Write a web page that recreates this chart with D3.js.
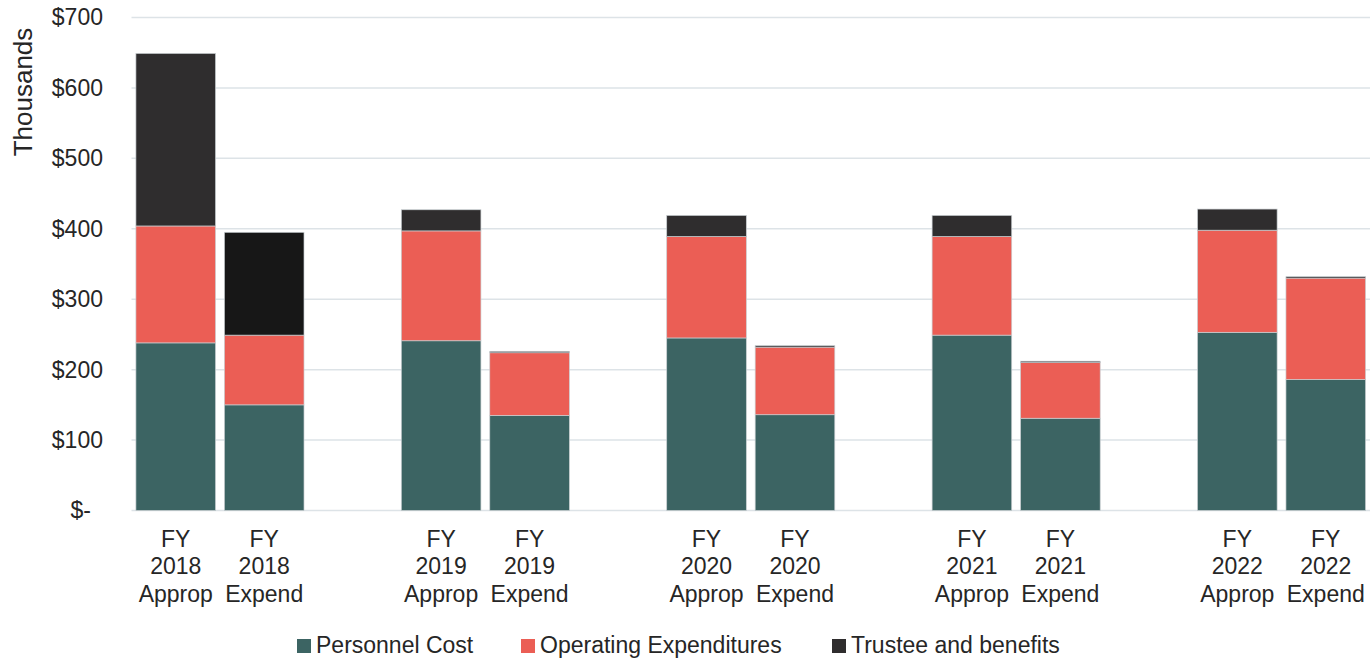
<!DOCTYPE html>
<html>
<head>
<meta charset="utf-8">
<script src="https://cdn.jsdelivr.net/npm/d3@7"></script>
<style>
  html, body { margin: 0; padding: 0; background: #fff; }
  svg { display: block; font-family: "Liberation Sans", Arial, sans-serif; }
</style>
</head>
<body>
<svg id="chart" width="1370" height="658"></svg>
<script>
// ---- data ----
const categories = [
  "FY 2018 Approp", "FY 2018 Expend",
  "FY 2019 Approp", "FY 2019 Expend",
  "FY 2020 Approp", "FY 2020 Expend",
  "FY 2021 Approp", "FY 2021 Expend",
  "FY 2022 Approp", "FY 2022 Expend"
];
const seriesNames = ["Personnel Cost", "Operating Expenditures", "Trustee and benefits"];
const personnelCost = [238, 150, 241, 135, 245, 136, 249, 131, 253, 186];
const operatingExpenditures = [166, 99, 156, 89, 144, 96, 140, 79, 145, 144];
const trusteeBenefits = [245, 146, 30, 2, 30, 2, 30, 2, 30, 2];
const yTicks = [0, 100, 200, 300, 400, 500, 600, 700];
const yTitle = "Thousands";

const colors = ["#3c6463", "#eb5e55", "#2f2d2e"];
const trusteeOverride = { "FY 2018 Expend": "#171717" };

// ---- layout ----
const svg = d3.select("#chart");
const plotLeft = 131.5, plotRight = 1370, plotTop = 17.5, plotBottom = 510.5;
const textColor = "#262626";

// slots: blank separator between year groups
const slots = [];
categories.forEach((c, i) => {
  if (i > 0 && i % 2 === 0) slots.push("gap" + i);
  slots.push(c);
});

const x = d3.scaleBand().domain(slots).range([plotLeft, plotRight])
  .paddingInner(0.1).paddingOuter(0.05);
const y = d3.scaleLinear().domain([0, 700]).range([plotBottom, plotTop]);

// gridlines
svg.append("g").selectAll("line").data(yTicks).join("line")
  .attr("x1", plotLeft).attr("x2", plotRight)
  .attr("y1", d => y(d)).attr("y2", d => y(d))
  .attr("stroke", "#dde3e7").attr("stroke-width", 1.5);

// y axis labels
const yAxis = svg.append("g").attr("transform", `translate(103,0)`)
  .call(d3.axisLeft(y).tickValues(yTicks).tickSize(0).tickPadding(0)
    .tickFormat(d => d === 0 ? "$-" : "$" + d));
yAxis.select(".domain").remove();
yAxis.selectAll("text").attr("font-size", 23).attr("fill", textColor)
  .attr("font-family", "Liberation Sans, Arial, sans-serif")
  .attr("dx", d => d === 0 ? -12 : 0);

svg.append("text")
  .attr("transform", "translate(32,92) rotate(-90)")
  .attr("text-anchor", "middle").attr("font-size", 26).attr("fill", textColor)
  .text(yTitle);

// stacked data
const rows = categories.map((c, i) => ({
  cat: c,
  [seriesNames[0]]: personnelCost[i],
  [seriesNames[1]]: operatingExpenditures[i],
  [seriesNames[2]]: trusteeBenefits[i]
}));
const stacked = d3.stack().keys(seriesNames)(rows);

svg.append("g").selectAll("g").data(stacked).join("g")
  .each(function(layer, li) {
    d3.select(this).selectAll("rect").data(layer).join("rect")
      .attr("x", d => x(d.data.cat))
      .attr("width", x.bandwidth())
      .attr("y", d => y(d[1]))
      .attr("height", d => y(d[0]) - y(d[1]))
      .attr("fill", d => (li === 2 && trusteeOverride[d.data.cat]) ? trusteeOverride[d.data.cat] : colors[li])
      .attr("stroke", "#c9cfd2").attr("stroke-width", 0.7);
  });

// x labels
const xl = svg.append("g");
categories.forEach(c => {
  const parts = c.split(" ");
  const cx = x(c) + x.bandwidth() / 2;
  const t = xl.append("text")
    .attr("x", cx).attr("y", 547)
    .attr("text-anchor", "middle").attr("font-size", 23).attr("fill", textColor);
  parts.forEach((p, k) => {
    t.append("tspan").attr("x", cx).attr("dy", k === 0 ? 0 : 27.3).text(p);
  });
});

// legend
const legendX = [297, 521, 832];
const lg = svg.append("g");
seriesNames.forEach((s, i) => {
  lg.append("rect").attr("x", legendX[i]).attr("y", 639).attr("width", 14).attr("height", 14)
    .attr("fill", colors[i]);
  lg.append("text").attr("x", legendX[i] + 19).attr("y", 653)
    .attr("font-size", 23).attr("fill", textColor).text(s);
});
</script>
</body>
</html>
